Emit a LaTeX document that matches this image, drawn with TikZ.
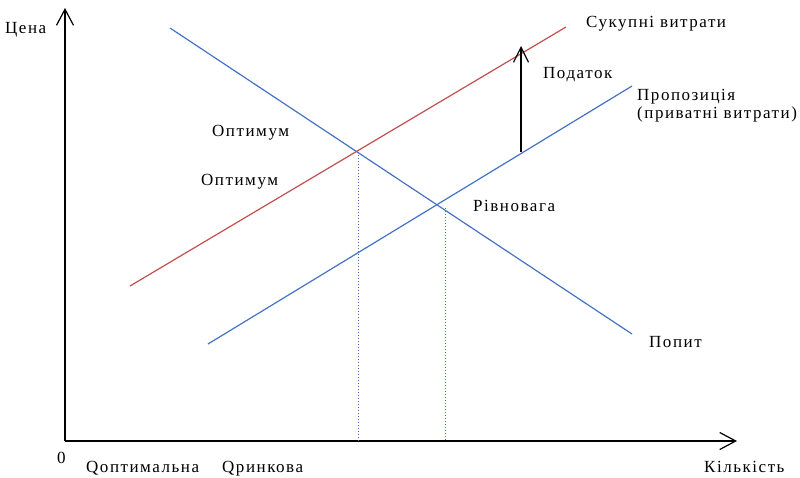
\documentclass[tikz,border=0pt]{standalone}
\usepackage{fontspec}
\setmainfont[LetterSpace=9]{Liberation Serif}
\usetikzlibrary{arrows.meta}
\definecolor{curveblue}{RGB}{68,114,196}
\definecolor{curvered}{RGB}{192,80,77}
\begin{document}
\begin{tikzpicture}[x=1pt,y=-1pt,
  lbl/.style={anchor=base west,inner sep=0pt,font=\fontsize{17}{19}\selectfont},
  axis/.style={line width=1.3pt,-{Straight Barb[length=16pt,width=17pt,line width=1.2pt]}},
  bluecurve/.style={curveblue,line width=1.2pt},
  redcurve/.style={curvered,line width=1.2pt},
  guide/.style={curveblue,line width=1pt,dotted}]
\useasboundingbox (0,0) rectangle (800,477);
% axes
\coordinate (O) at (65,441);
\coordinate (ytop) at (65,8);
\coordinate (xend) at (737,441);
\draw[axis] (O) -- (ytop);
\draw[axis] (O) -- (xend);
% curves
\coordinate (d1) at (170,28);
\coordinate (d2) at (632,334);
\coordinate (s1) at (208,344);
\coordinate (s2) at (632,86);
\coordinate (r1) at (130,286);
\coordinate (r2) at (566,27);
\draw[bluecurve] (d1) -- (d2);
\draw[bluecurve] (s1) -- (s2);
\draw[redcurve] (r1) -- (r2);
% tax arrow
\coordinate (t1) at (521,152);
\coordinate (t2) at (521,46);
\draw[line width=1.3pt,-{Straight Barb[length=15pt,width=15pt,line width=1.2pt]}] (t1) -- (t2);
% dotted guides
\coordinate (g1a) at (358,152);
\coordinate (g1b) at (358,441);
\coordinate (g2a) at (445,208);
\coordinate (g2b) at (445,441);
\draw[guide] (g1a) -- (g1b);
\draw[guide] (g2a) -- (g2b);
% labels
\node[lbl] (ycap) at (5,33) {Цена};
\node[lbl] (total) at (586,27) {Сукупні витрати};
\node[lbl] (tax) at (543,78) {Податок};
\node[lbl] (supply) at (637,100) {Пропозиція};
\node[lbl] (supply2) at (637,118) {(приватні витрати)};
\node[lbl] (opt1) at (212,136) {Оптимум};
\node[lbl] (opt2) at (201,185) {Оптимум};
\node[lbl] (eq) at (473,211) {Рівновага};
\node[lbl] (dem) at (649,347) {Попит};
\node[lbl] (zero) at (57,463) {0};
\node[lbl] (qopt) at (86,472) {Qоптимальна};
\node[lbl] (qmkt) at (222,472) {Qринкова};
\node[lbl] (xcap) at (704,472) {Кількість};
\end{tikzpicture}
\end{document}
